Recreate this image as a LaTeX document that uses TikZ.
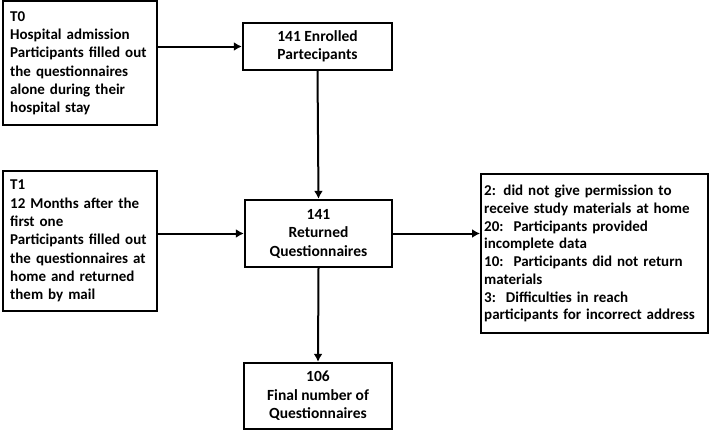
\documentclass[tikz,border=0pt]{standalone}
\usepackage{fontspec}
\setmainfont{Carlito}
\usetikzlibrary{arrows.meta}
\begin{document}
\begin{tikzpicture}[x=1pt, y=-1pt,
	box/.style={draw, line width=2.4pt, inner sep=0pt, font=\fontsize{15.5}{18.5}\selectfont\bfseries},
	sidebox/.style={box, font=\fontsize{15}{18.3}\selectfont\bfseries},
	flow/.style={line width=2pt, -{Latex[length=8pt,width=9pt]}}]
			\useasboundingbox (0,0) rectangle (710,431);
			\node[sidebox, anchor=north west, minimum width=154, minimum height=124, text width=140, align=left] (tzero) at (2,0) {T0\\Hospital admission\\Participants filled out\\the questionnaires\\alone during their\\hospital stay};
			\node[sidebox, anchor=north west, minimum width=154, minimum height=140, text width=140, align=left] (tone) at (2,170) {T1\\12 Months after the\\first one\\Participants filled out\\the questionnaires at\\home and returned\\them by mail};
			\node[box, minimum width=149, minimum height=47, align=center] (enrolled) at (317.5,46.5) {141 Enrolled\\Partecipants};
			\node[box, minimum width=147, minimum height=67, align=center] (returned) at (318.5,233.5) {141\\Returned\\Questionnaires};
			\node[box, minimum width=148, minimum height=66, align=center] (final) at (318,396) {106\\Final number of\\Questionnaires};
			\node[box, font=\fontsize{15}{17.7}\selectfont\bfseries, anchor=north west, minimum width=227, minimum height=159, text width=221, align=left] (excluded) at (480,173) {2: did not give permission to\\receive study materials at home\\20:\ \ Participants provided\\incomplete data\\10:\ \ Participants did not return\\materials\\3:\ \ Difficulties in reach\\participants for incorrect address};
			\draw[flow] (tzero.east |- enrolled) -- (enrolled.west);
			\draw[flow] (tone.east |- returned) -- (returned.west);
			\draw[flow] (enrolled.south) -- (returned.north);
			\draw[flow] (returned.south) -- (final.north);
			\draw[flow] (returned.east) -- (returned.east -| excluded.west);
\end{tikzpicture}
\end{document}
